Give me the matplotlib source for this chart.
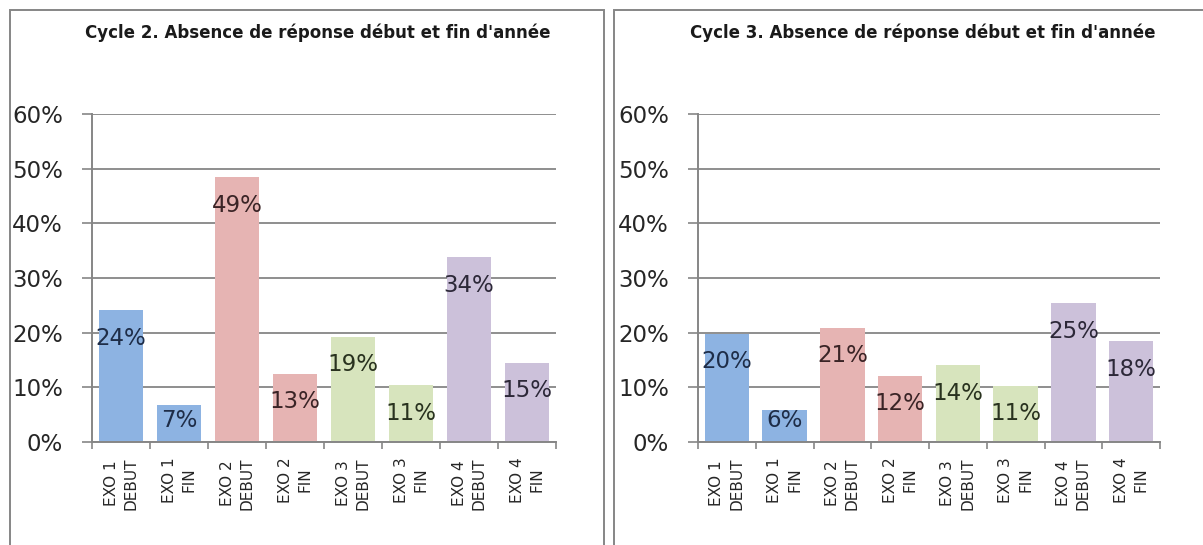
import matplotlib
matplotlib.use("Agg")
import matplotlib.pyplot as plt
from matplotlib.patches import Rectangle

W, H = 1203, 545

categories = ["EXO 1\nDEBUT", "EXO 1\nFIN", "EXO 2\nDEBUT", "EXO 2\nFIN",
              "EXO 3\nDEBUT", "EXO 3\nFIN", "EXO 4\nDEBUT", "EXO 4\nFIN"]
cycle2_values = [24.1, 6.7, 48.4, 12.5, 19.2, 10.4, 33.8, 14.5]
cycle2_labels = ["24%", "7%", "49%", "13%", "19%", "11%", "34%", "15%"]
cycle3_values = [19.8, 5.9, 20.9, 12.1, 14.0, 10.3, 25.4, 18.4]
cycle3_labels = ["20%", "6%", "21%", "12%", "14%", "11%", "25%", "18%"]
titles = ["Cycle 2. Absence de réponse début et fin d'année",
          "Cycle 3. Absence de réponse début et fin d'année"]
yticks = [0, 10, 20, 30, 40, 50, 60]

bar_colors = ["#8DB3E2", "#8DB3E2", "#E6B4B3", "#E6B4B3",
              "#D7E4BD", "#D7E4BD", "#CCC1DA", "#CCC1DA"]
text_colors = ["#1E2D48", "#1E2D48", "#3A2426", "#3A2426",
               "#29321F", "#29321F", "#2C2838", "#2C2838"]
GRAY = "#868686"

fig = plt.figure(figsize=(W / 100, H / 100), dpi=100)


def px_box(x0, y0, x1, y1):
    # pixel box (top-left origin) -> figure fraction [left, bottom, w, h]
    return [x0 / W, 1 - y1 / H, (x1 - x0) / W, (y1 - y0) / H]


# panel frames
fig.add_artist(Rectangle((10 / W, -0.1), (604 - 10) / W, 1.1 - 10 / H,
                         transform=fig.transFigure, fill=False,
                         edgecolor=GRAY, lw=1.4))
fig.add_artist(Rectangle((614 / W, -0.1), 0.6, 1.1 - 10 / H,
                         transform=fig.transFigure, fill=False,
                         edgecolor=GRAY, lw=1.4))

panels = [
    (px_box(92, 114, 556, 442), cycle2_values, cycle2_labels, titles[0], 318),
    (px_box(698, 114, 1160, 442), cycle3_values, cycle3_labels, titles[1], 923),
]

for box, vals, labs, title, tx in panels:
    ax = fig.add_axes(box)
    x = list(range(len(categories)))
    ax.bar(x, vals, width=0.77, color=bar_colors, zorder=3)
    ax.set_xlim(-0.5, len(categories) - 0.5)
    ax.set_ylim(0, 60)

    ax.set_yticks(yticks)
    ax.set_yticklabels([f"{t}%" for t in yticks])
    ax.yaxis.grid(True, color=GRAY, lw=1.3, zorder=1)
    ax.tick_params(axis="y", direction="out", length=7, width=1.2,
                   color=GRAY, pad=14, labelsize=16.5, labelcolor="#262626")
    for lbl in ax.get_yticklabels():
        lbl.set_va("center_baseline")

    ax.set_xticks(x)
    ax.set_xticklabels(categories, rotation=90, fontsize=11,
                       color="#262626", linespacing=1.4, ha="center",
                       va="top")
    ax.set_xticks([i - 0.5 for i in range(len(categories) + 1)], minor=True)
    ax.tick_params(axis="x", which="major", length=0, pad=11)
    ax.tick_params(axis="x", which="minor", direction="out", length=5,
                   width=1.2, color=GRAY)

    for side in ("top", "right"):
        ax.spines[side].set_visible(False)
    for side in ("left", "bottom"):
        ax.spines[side].set_color(GRAY)
        ax.spines[side].set_linewidth(1.4)
        ax.spines[side].set_zorder(4)

    # data labels just inside the bar top, lifted for short bars
    for xi, v, lab, c in zip(x, vals, labs, text_colors):
        ax.text(xi, max(v - 5.1, 3.85), lab, ha="center", va="center",
                fontsize=16.5, color=c, zorder=5)

    fig.text(tx / W, 1 - 33 / H, title, ha="center", va="center",
             fontsize=12, fontweight="bold", color="#1A1A1A")

fig.savefig("out.png", dpi=100)
